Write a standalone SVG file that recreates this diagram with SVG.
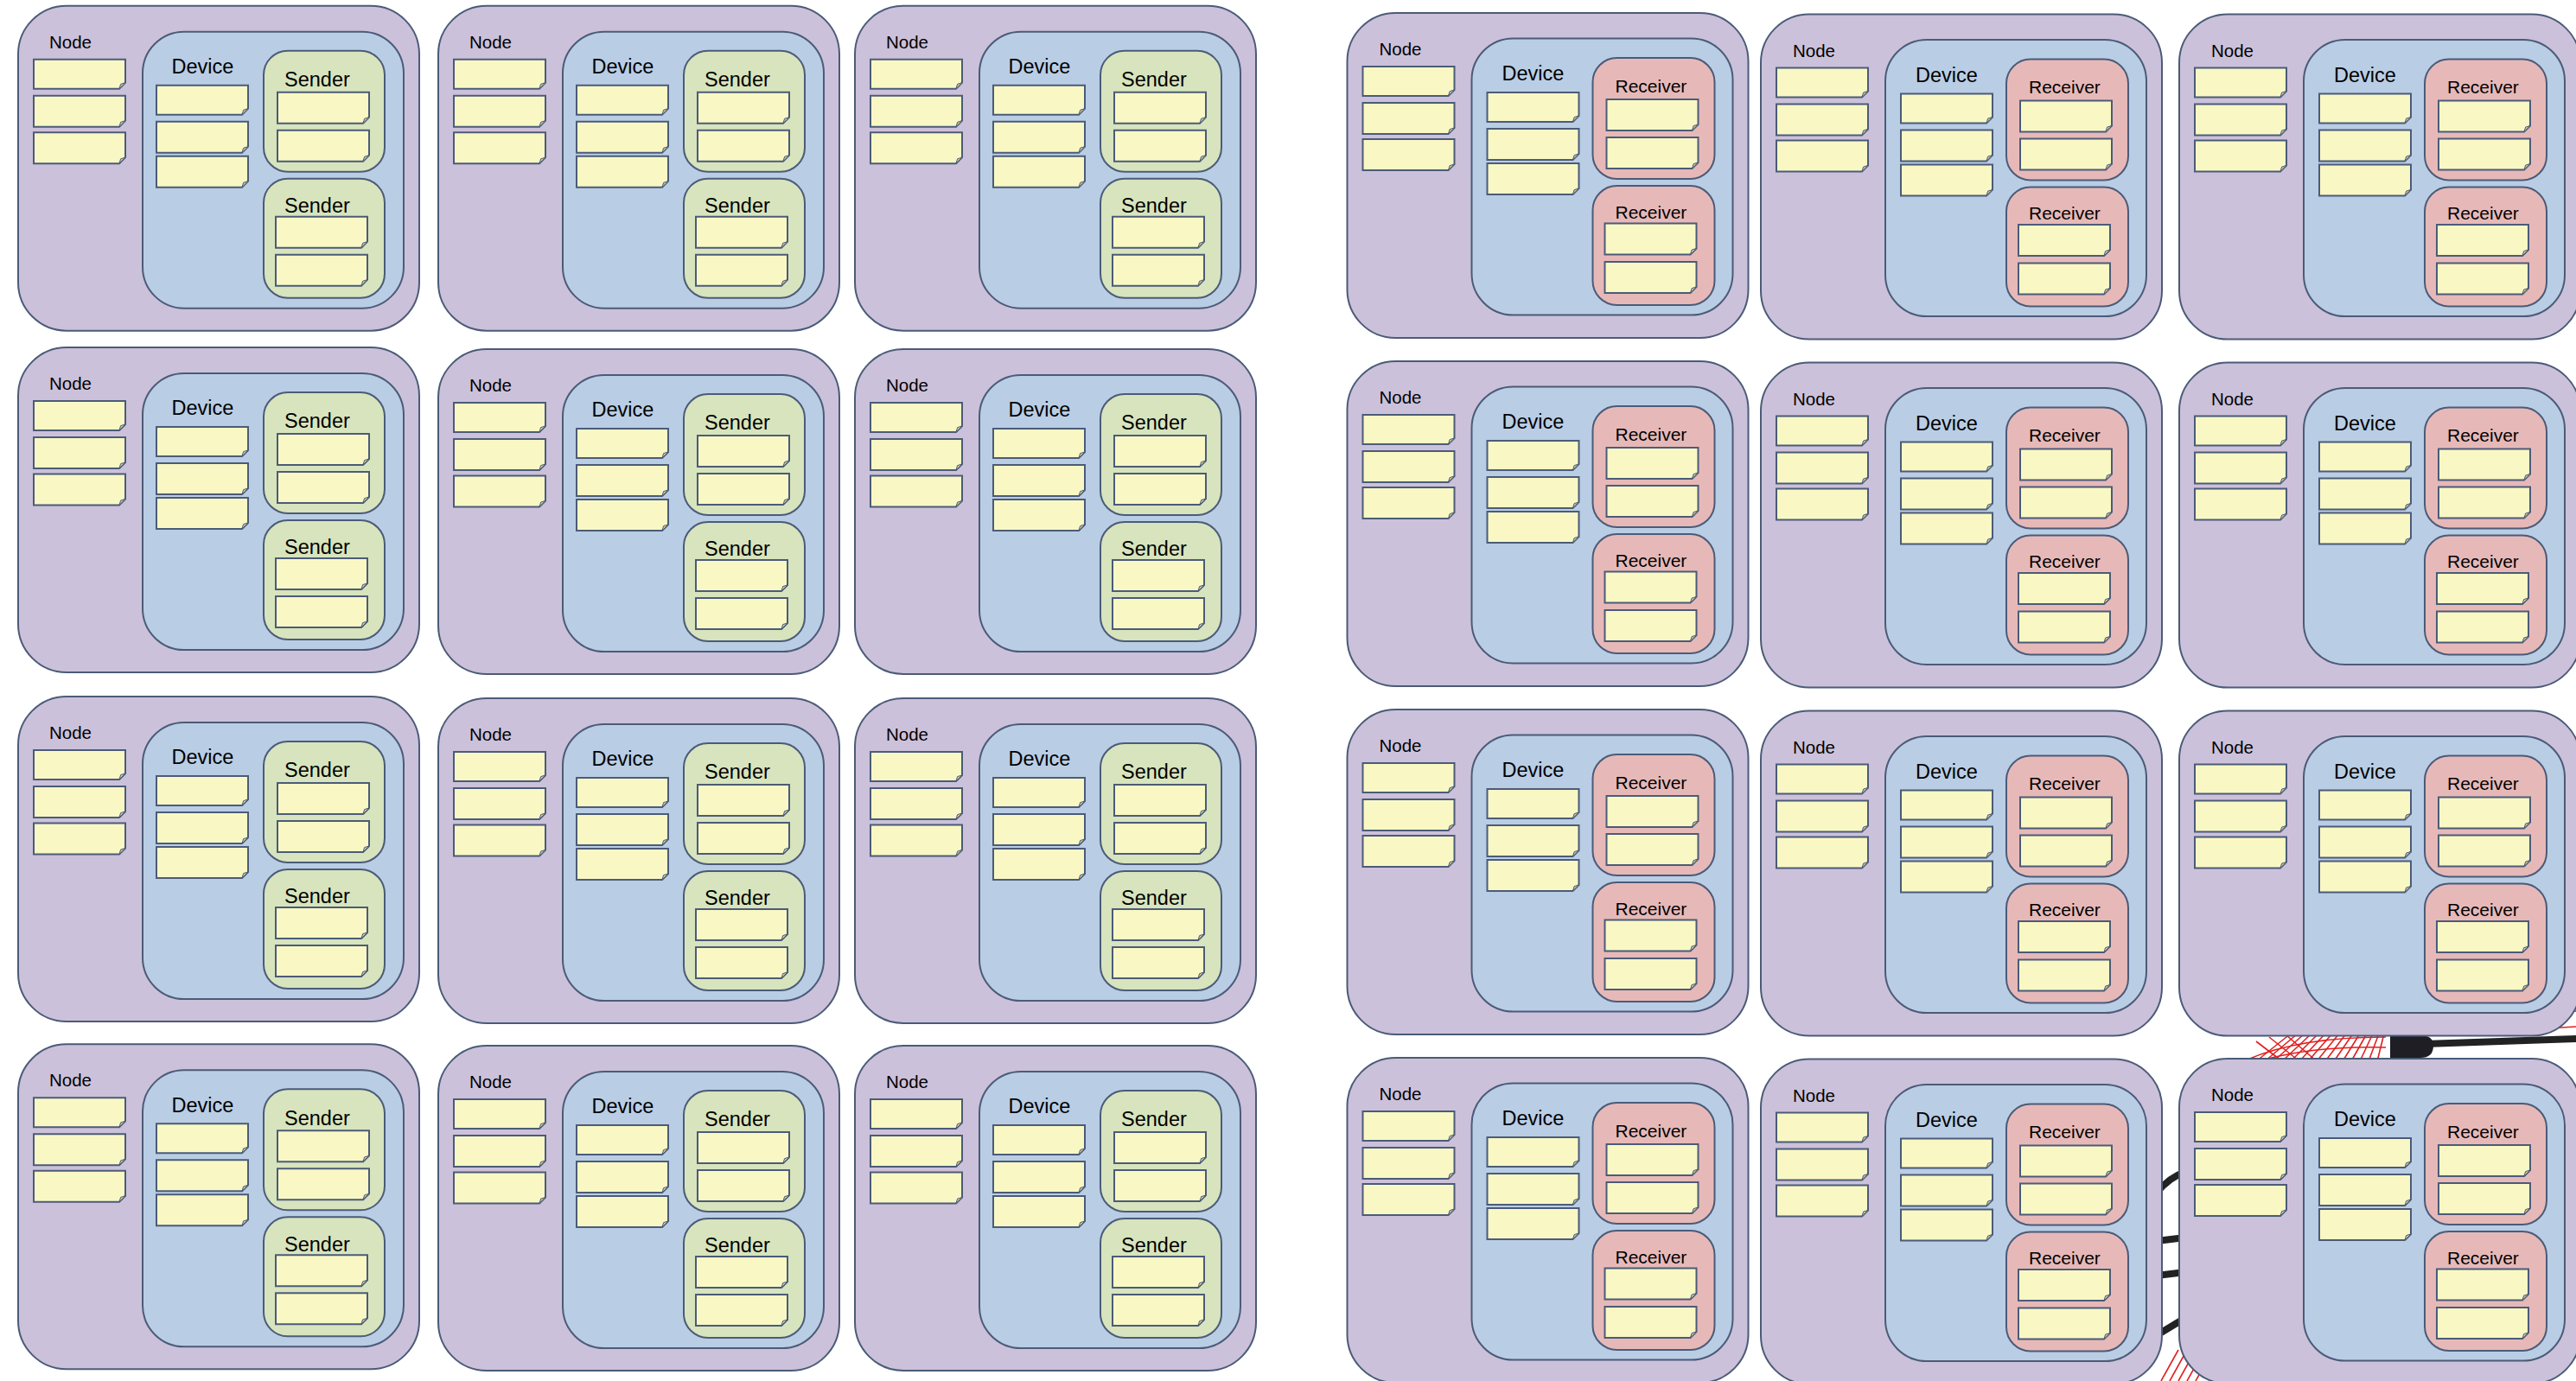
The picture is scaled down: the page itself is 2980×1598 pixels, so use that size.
<svg xmlns="http://www.w3.org/2000/svg" xmlns:xlink="http://www.w3.org/1999/xlink" width="2980" height="1598" viewBox="0 0 2980 1598">
<style>
.nb{fill:#ccc1da;stroke:#4b5b78;stroke-width:2}
.db{fill:#b9cde5;stroke:#4b5b78;stroke-width:2}
.sb{fill:#d7e4bd;stroke:#4b5b78;stroke-width:2}
.rb{fill:#e6b9b8;stroke:#4b5b78;stroke-width:2}
.nt{fill:#f9f8c4;stroke:#4b5b78;stroke-width:2;stroke-linejoin:miter}
.fd{fill:#c9c7a0;stroke:#4b5b78;stroke-width:1}
text{font-family:"Liberation Sans",Arial,sans-serif;fill:#000}
.tn{font-size:20.5px}
.td{font-size:23.5px}
.ts{font-size:23.5px}
.tr{font-size:21px}
.red{fill:none;stroke:#e02020;stroke-width:1.6}
.blk{fill:none;stroke:#222;stroke-width:8;stroke-linecap:round}
</style>
<defs>
<g id="n34"><path class="nt" d="M0,0H106V27L99,34H0Z"/><path class="fd" d="M99,34L100.6,28.6L106,27Z"/></g>
<g id="n36"><path class="nt" d="M0,0H106V29L99,36H0Z"/><path class="fd" d="M99,36L100.6,30.6L106,29Z"/></g>
<g id="bodyS">
<rect class="nb" x="0" y="0" width="464" height="376" rx="56"/>
<use href="#n34" x="18" y="62"/><use href="#n36" x="18" y="104"/><use href="#n36" x="18" y="146.5"/>
<rect class="db" x="144" y="30" width="302" height="320" rx="48"/>
<use href="#n34" x="160" y="92"/><use href="#n36" x="160" y="134"/><use href="#n36" x="160" y="174"/>
<rect class="sb" x="284" y="52" width="140" height="140" rx="28"/>
<use href="#n36" x="300" y="100"/><use href="#n36" x="300" y="144"/>
<rect class="sb" x="284" y="200" width="140" height="138" rx="28"/>
<use href="#n36" x="298" y="244"/><use href="#n36" x="298" y="288"/>
</g>
<g id="bodyR">
<rect class="nb" x="0" y="0" width="464" height="376" rx="56"/>
<use href="#n34" x="18" y="62"/><use href="#n36" x="18" y="104"/><use href="#n36" x="18" y="146"/>
<rect class="db" x="144" y="29.5" width="302" height="320" rx="48"/>
<use href="#n34" x="162" y="92"/><use href="#n36" x="162" y="134"/><use href="#n36" x="162" y="174"/>
<rect class="rb" x="284" y="52" width="141" height="140" rx="28"/>
<use href="#n36" x="300" y="100"/><use href="#n36" x="300" y="144"/>
<rect class="rb" x="284" y="200" width="141" height="138" rx="28"/>
<use href="#n36" x="298" y="243.5"/><use href="#n36" x="298" y="288"/>
</g>
</defs>
<rect width="2980" height="1598" fill="#fff"/>
<g id="connectors">
<g id="background-lines">
<path class="red" d="M2610,1228L2650,1196M2620,1228L2658,1196M2630,1228L2666,1196M2640,1228L2674,1196M2650,1228L2682,1196M2660,1228L2690,1196M2670,1228L2698,1196M2680,1228L2706,1196M2690,1228L2714,1196M2700,1228L2722,1196M2710,1228L2730,1196M2720,1228L2738,1196M2730,1228L2745,1196M2740,1228L2752,1196M2750,1228L2758,1196"/>
<path class="red" d="M2600,1226Q2660,1200 2760,1200M2620,1226Q2680,1210 2760,1212M2640,1228L2610,1205M2660,1228L2625,1200M2680,1228L2645,1198"/>
<path class="blk" d="M2775,1210H2805M2805,1208L2980,1202"/>
<path d="M2765,1198H2800Q2815,1198 2815,1210Q2815,1224 2800,1224H2765Z" fill="#1e1e24"/>
<path class="red" d="M2940,1172L2980,1170M2945,1190L2980,1188"/>
<path class="blk" d="M2495,1380Q2510,1362 2528,1356M2495,1436L2528,1432M2495,1476L2528,1472M2495,1545L2528,1525"/>
<path class="red" d="M2500,1598L2520,1562M2510,1598L2530,1562M2520,1598L2540,1562M2530,1598L2550,1562M2540,1598L2560,1562"/>
</g>
</g>
<g id="sender-nodes">
<g id="node-s-r1c1" transform="translate(21,6.7)"><use href="#bodyS"/><text class="tn" x="36" y="49">Node</text><text class="td" x="177.5" y="78.3">Device</text><text class="ts" x="308" y="93.3">Sender</text><text class="ts" x="308" y="239.3">Sender</text></g>
<g id="node-s-r1c2" transform="translate(507,6.7)"><use href="#bodyS"/><text class="tn" x="36" y="49">Node</text><text class="td" x="177.5" y="78.3">Device</text><text class="ts" x="308" y="93.3">Sender</text><text class="ts" x="308" y="239.3">Sender</text></g>
<g id="node-s-r1c3" transform="translate(989,6.7)"><use href="#bodyS"/><text class="tn" x="36" y="49">Node</text><text class="td" x="177.5" y="78.3">Device</text><text class="ts" x="308" y="93.3">Sender</text><text class="ts" x="308" y="239.3">Sender</text></g>
<g id="node-s-r2c1" transform="translate(21,402)"><use href="#bodyS"/><text class="tn" x="36" y="49">Node</text><text class="td" x="177.5" y="78.3">Device</text><text class="ts" x="308" y="93.3">Sender</text><text class="ts" x="308" y="239.3">Sender</text></g>
<g id="node-s-r2c2" transform="translate(507,404)"><use href="#bodyS"/><text class="tn" x="36" y="49">Node</text><text class="td" x="177.5" y="78.3">Device</text><text class="ts" x="308" y="93.3">Sender</text><text class="ts" x="308" y="239.3">Sender</text></g>
<g id="node-s-r2c3" transform="translate(989,404)"><use href="#bodyS"/><text class="tn" x="36" y="49">Node</text><text class="td" x="177.5" y="78.3">Device</text><text class="ts" x="308" y="93.3">Sender</text><text class="ts" x="308" y="239.3">Sender</text></g>
<g id="node-s-r3c1" transform="translate(21,806)"><use href="#bodyS"/><text class="tn" x="36" y="49">Node</text><text class="td" x="177.5" y="78.3">Device</text><text class="ts" x="308" y="93.3">Sender</text><text class="ts" x="308" y="239.3">Sender</text></g>
<g id="node-s-r3c2" transform="translate(507,808)"><use href="#bodyS"/><text class="tn" x="36" y="49">Node</text><text class="td" x="177.5" y="78.3">Device</text><text class="ts" x="308" y="93.3">Sender</text><text class="ts" x="308" y="239.3">Sender</text></g>
<g id="node-s-r3c3" transform="translate(989,808)"><use href="#bodyS"/><text class="tn" x="36" y="49">Node</text><text class="td" x="177.5" y="78.3">Device</text><text class="ts" x="308" y="93.3">Sender</text><text class="ts" x="308" y="239.3">Sender</text></g>
<g id="node-s-r4c1" transform="translate(21,1208.3)"><use href="#bodyS"/><text class="tn" x="36" y="49">Node</text><text class="td" x="177.5" y="78.3">Device</text><text class="ts" x="308" y="93.3">Sender</text><text class="ts" x="308" y="239.3">Sender</text></g>
<g id="node-s-r4c2" transform="translate(507,1210)"><use href="#bodyS"/><text class="tn" x="36" y="49">Node</text><text class="td" x="177.5" y="78.3">Device</text><text class="ts" x="308" y="93.3">Sender</text><text class="ts" x="308" y="239.3">Sender</text></g>
<g id="node-s-r4c3" transform="translate(989,1210)"><use href="#bodyS"/><text class="tn" x="36" y="49">Node</text><text class="td" x="177.5" y="78.3">Device</text><text class="ts" x="308" y="93.3">Sender</text><text class="ts" x="308" y="239.3">Sender</text></g>
</g>
<g id="receiver-nodes">
<g id="node-r-r1c1" transform="translate(1558.5,15)"><use href="#bodyR"/><text class="tn" x="37" y="49">Node</text><text class="td" x="179" y="78.3">Device</text><text class="tr" x="310" y="91.7">Receiver</text><text class="tr" x="310" y="237.7">Receiver</text></g>
<g id="node-r-r1c2" transform="translate(2037,16.5)"><use href="#bodyR"/><text class="tn" x="37" y="49">Node</text><text class="td" x="179" y="78.3">Device</text><text class="tr" x="310" y="91.7">Receiver</text><text class="tr" x="310" y="237.7">Receiver</text></g>
<g id="node-r-r1c3" transform="translate(2521,16.5)"><use href="#bodyR"/><text class="tn" x="37" y="49">Node</text><text class="td" x="179" y="78.3">Device</text><text class="tr" x="310" y="91.7">Receiver</text><text class="tr" x="310" y="237.7">Receiver</text></g>
<g id="node-r-r2c1" transform="translate(1558.5,418)"><use href="#bodyR"/><text class="tn" x="37" y="49">Node</text><text class="td" x="179" y="78.3">Device</text><text class="tr" x="310" y="91.7">Receiver</text><text class="tr" x="310" y="237.7">Receiver</text></g>
<g id="node-r-r2c2" transform="translate(2037,419.5)"><use href="#bodyR"/><text class="tn" x="37" y="49">Node</text><text class="td" x="179" y="78.3">Device</text><text class="tr" x="310" y="91.7">Receiver</text><text class="tr" x="310" y="237.7">Receiver</text></g>
<g id="node-r-r2c3" transform="translate(2521,419.5)"><use href="#bodyR"/><text class="tn" x="37" y="49">Node</text><text class="td" x="179" y="78.3">Device</text><text class="tr" x="310" y="91.7">Receiver</text><text class="tr" x="310" y="237.7">Receiver</text></g>
<g id="node-r-r3c1" transform="translate(1558.5,821)"><use href="#bodyR"/><text class="tn" x="37" y="49">Node</text><text class="td" x="179" y="78.3">Device</text><text class="tr" x="310" y="91.7">Receiver</text><text class="tr" x="310" y="237.7">Receiver</text></g>
<g id="node-r-r3c2" transform="translate(2037,822.5)"><use href="#bodyR"/><text class="tn" x="37" y="49">Node</text><text class="td" x="179" y="78.3">Device</text><text class="tr" x="310" y="91.7">Receiver</text><text class="tr" x="310" y="237.7">Receiver</text></g>
<g id="node-r-r3c3" transform="translate(2521,822.5)"><use href="#bodyR"/><text class="tn" x="37" y="49">Node</text><text class="td" x="179" y="78.3">Device</text><text class="tr" x="310" y="91.7">Receiver</text><text class="tr" x="310" y="237.7">Receiver</text></g>
<g id="node-r-r4c1" transform="translate(1558.5,1224)"><use href="#bodyR"/><text class="tn" x="37" y="49">Node</text><text class="td" x="179" y="78.3">Device</text><text class="tr" x="310" y="91.7">Receiver</text><text class="tr" x="310" y="237.7">Receiver</text></g>
<g id="node-r-r4c2" transform="translate(2037,1225.5)"><use href="#bodyR"/><text class="tn" x="37" y="49">Node</text><text class="td" x="179" y="78.3">Device</text><text class="tr" x="310" y="91.7">Receiver</text><text class="tr" x="310" y="237.7">Receiver</text></g>
<g id="node-r-r4c3" transform="translate(2521,1225)"><use href="#bodyR"/><text class="tn" x="37" y="49">Node</text><text class="td" x="179" y="78.3">Device</text><text class="tr" x="310" y="91.7">Receiver</text><text class="tr" x="310" y="237.7">Receiver</text></g>
</g>
</svg>
